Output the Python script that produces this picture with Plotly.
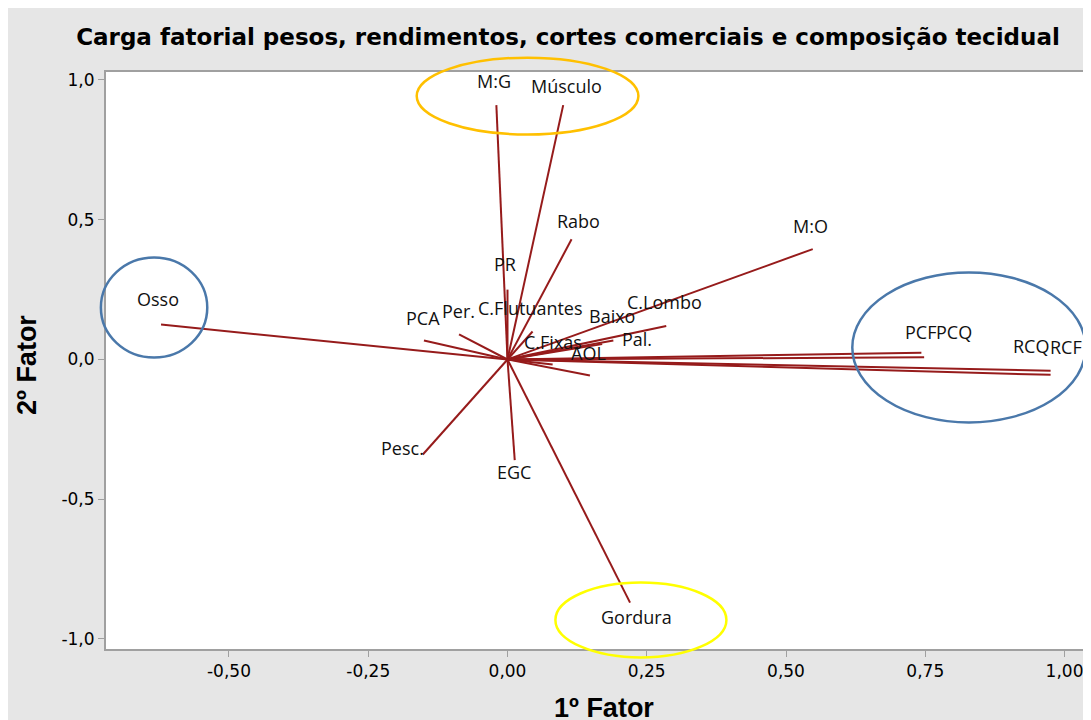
import plotly.graph_objects as go

# ---- data (factor loadings) ----
variables = ["Osso", "M:G", "Músculo", "Rabo", "M:O", "PR", "PCA", "Per.",
             "C.Flutuantes", "C.Fixas", "C.Lombo", "Baixo", "Pal.", "AOL",
             "PCF", "PCQ", "RCQ", "RCF", "Pesc.", "EGC", "Gordura"]
factor1 = [-0.622, -0.020, 0.100, 0.115, 0.548, 0.000, -0.150, -0.087,
           0.045, 0.148, 0.285, 0.190, 0.170, 0.081,
           0.743, 0.748, 0.975, 0.975, -0.152, 0.013, 0.220]
factor2 = [0.125, 0.910, 0.910, 0.430, 0.395, 0.250, 0.068, 0.090,
           0.100, -0.057, 0.120, 0.068, 0.055, -0.018,
           0.024, 0.008, -0.040, -0.055, -0.340, -0.360, -0.870]
# label positions (data units)
label_x = [-0.628, -0.025, 0.106, 0.127, 0.544, -0.004, -0.151, -0.088,
           0.041, 0.081, 0.282, 0.187, 0.233, 0.145,
           0.741, 0.802, 0.939, 1.002, -0.188, 0.011, 0.232]
label_y = [0.215, 0.995, 0.980, 0.494, 0.476, 0.340, 0.150, 0.172,
           0.186, 0.064, 0.204, 0.154, 0.072, 0.025,
           0.097, 0.097, 0.047, 0.043, -0.318, -0.404, -0.923]

x_ticks = [-0.50, -0.25, 0.00, 0.25, 0.50, 0.75, 1.00]
x_ticktext = ["-0,50", "-0,25", "0,00", "0,25", "0,50", "0,75", "1,00"]
y_ticks = [-1.0, -0.5, 0.0, 0.5, 1.0]
y_ticktext = ["-1,0", "-0,5", "0,0", "0,5", "1,0"]

x_range = [-0.7208, 1.0601]
y_range = [-1.0358, 1.0286]

# highlight ellipses (data units): x0, x1, y0, y1, color
ellipses = [
    (-0.73, -0.539, 0.007, 0.365, "#4a78aa"),
    (0.619, 1.038, -0.225, 0.311, "#4a78aa"),
    (-0.163, 0.235, 0.805, 1.080, "#ffc000"),
    (0.086, 0.393, -1.066, -0.798, "#ffff00"),
]

def px(v):
    return (v - x_range[0]) / (x_range[1] - x_range[0])

def py(v):
    return (v - y_range[0]) / (y_range[1] - y_range[0])

xs, ys = [], []
for a, b in zip(factor1, factor2):
    xs += [0, a, None]
    ys += [0, b, None]

fig = go.Figure()
fig.add_trace(go.Scatter(x=xs, y=ys, mode="lines",
                         line=dict(color="#961b1b", width=2),
                         hoverinfo="skip", showlegend=False))

for name, lx, ly in zip(variables, label_x, label_y):
    fig.add_annotation(x=lx, y=ly, text=name, showarrow=False,
                       font=dict(family="Open Sans", size=18, color="#111111"),
                       xanchor="center", yanchor="middle")

W, H = 1091, 720
L, R, T, B = 98, 1, 64, 79
pw, ph = W - L - R, H - T - B

shapes = []
for x0, x1, y0, y1, col in ellipses:
    shapes.append(dict(type="circle", xref="paper", yref="paper",
                       x0=px(x0), x1=px(x1), y0=py(y0), y1=py(y1),
                       line=dict(color=col, width=2.5), layer="above"))

tickfont = dict(family="DejaVu Sans", size=17, color="black")
fig.update_layout(
    width=W, height=H,
    margin=dict(l=L, r=R, t=T, b=B),
    paper_bgcolor="#e6e6e6",
    plot_bgcolor="white",
    shapes=shapes,
    title=dict(text="<b>Carga fatorial pesos, rendimentos, cortes comerciais e composição tecidual</b>",
               x=560 / W, xanchor="center", y=1 - 29 / H, yanchor="middle",
               font=dict(family="DejaVu Sans", size=23, color="black")),
    xaxis=dict(range=x_range, tickvals=x_ticks, ticktext=x_ticktext,
               showgrid=False, zeroline=False, showline=True,
               linecolor="#a0a0a0", linewidth=2, mirror=True,
               ticks="outside", ticklen=6, tickcolor="#a0a0a0",
               tickfont=tickfont),
    yaxis=dict(range=y_range, tickvals=y_ticks, ticktext=y_ticktext,
               showgrid=False, zeroline=False, showline=True,
               linecolor="#a0a0a0", linewidth=2,
               ticks="outside", ticklen=6, tickcolor="#a0a0a0",
               tickfont=tickfont),
)

fig.add_annotation(text="<b>1º Fator</b>", xref="paper", yref="paper",
                   x=(596 - L) / pw, y=(H - B - 700) / ph, showarrow=False,
                   xanchor="center", yanchor="middle",
                   font=dict(family="Liberation Sans", size=27, color="black"))
fig.add_annotation(text="<b>2º Fator</b>", xref="paper", yref="paper",
                   x=(19 - L) / pw, y=(H - B - 357) / ph, showarrow=False,
                   textangle=-90, xanchor="center", yanchor="middle",
                   font=dict(family="Liberation Sans", size=27, color="black"))

fig.write_html("out.html")
